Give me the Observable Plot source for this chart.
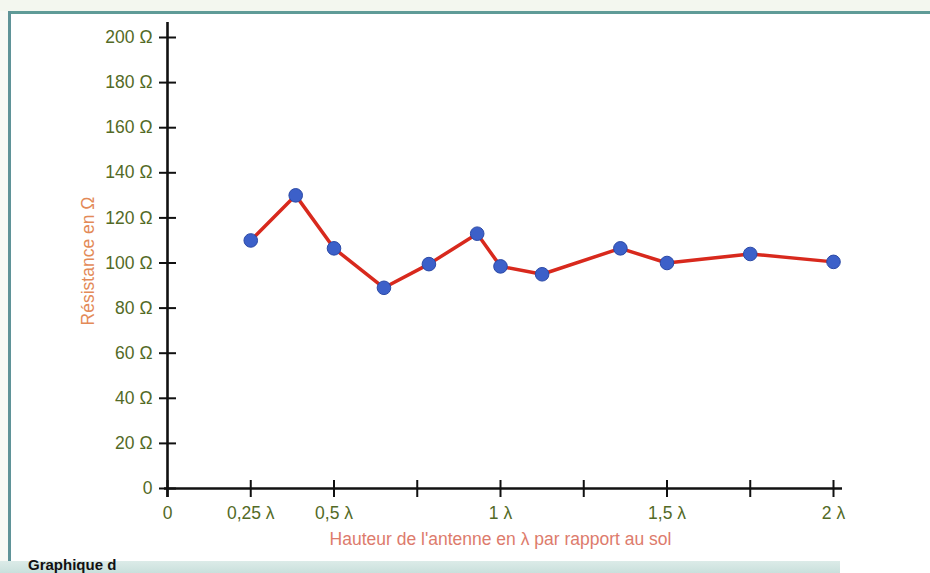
<!DOCTYPE html>
<html>
<head>
<meta charset="utf-8">
<script src="https://cdn.jsdelivr.net/npm/d3@7"></script>
<script src="https://cdn.jsdelivr.net/npm/@observablehq/plot@0.6"></script>
<style>
  html, body { margin: 0; padding: 0; background: #ffffff; }
  #wrap { position: relative; width: 930px; height: 573px; overflow: hidden; background: #ffffff; font-family: "Liberation Sans", Arial, sans-serif; }
  #wrap svg { position: absolute; left: 0; top: 0; overflow: visible; }
  .topband { position: absolute; left: 0; top: 0; width: 930px; height: 11px; background: #f3f7ef; }
  .topline { position: absolute; left: 8px; top: 11px; width: 922px; height: 3px; background: #5f9b97; }
  .leftband { position: absolute; left: 0; top: 11px; width: 8px; height: 552px; background: #f7f9f5; }
  .leftline { position: absolute; left: 8px; top: 11px; width: 3px; height: 552px; background: #5f9398; }
  .bottomband { position: absolute; left: 0; top: 561px; width: 840px; height: 12px; background: linear-gradient(#dcebe8, #c9e0dc); }
  .caption { position: absolute; left: 28px; top: 557px; font: bold 15px/15px "Liberation Sans", Arial, sans-serif; color: #111; white-space: nowrap; }
</style>
</head>
<body>
<div id="wrap">
  <div class="topband"></div>
  <div class="leftband"></div>
  <div id="chart"></div>
  <div class="topline"></div>
  <div class="leftline"></div>
  <div class="bottomband"></div>
  <div class="caption">Graphique d</div>
</div>
<script>
// Heights of the antenna (in wavelengths) and measured resistance (ohms)
const heights = [0.25, 0.385, 0.5, 0.65, 0.785, 0.93, 1.0, 1.125, 1.36, 1.5, 1.75, 2.0];
const resistances = [110, 130, 106.5, 89, 99.5, 113, 98.5, 95, 106.5, 100, 104, 100.5];

const yTicks = [0, 20, 40, 60, 80, 100, 120, 140, 160, 180, 200];
const yTickLabels = ["0", "20 Ω", "40 Ω", "60 Ω", "80 Ω", "100 Ω", "120 Ω", "140 Ω", "160 Ω", "180 Ω", "200 Ω"];
const xTicks = [0, 0.25, 0.5, 0.75, 1, 1.25, 1.5, 1.75, 2];
const xLabelValues = [0, 0.25, 0.5, 1, 1.5, 2];
const xLabelTexts = ["0", "0,25 λ", "0,5 λ", "1 λ", "1,5 λ", "2 λ"];

const xTitle = "Hauteur de l'antenne en λ par rapport au sol";
const yTitle = "Résistance en Ω";

const data = heights.map((h, i) => ({h, r: resistances[i]}));
const yLab = yTicks.map((v, i) => ({v, t: yTickLabels[i]}));
const xLab = xLabelValues.map((v, i) => ({v, t: xLabelTexts[i]}));

const font = "Liberation Sans, Arial, sans-serif";
const tickColor = "#536a26";

const chart = Plot.plot({
  width: 930,
  height: 573,
  marginLeft: 167,
  marginRight: 97,
  marginTop: 37,
  marginBottom: 85,
  style: {background: "transparent", fontFamily: font, overflow: "visible"},
  x: {domain: [0, 2], axis: null},
  y: {domain: [0, 200], axis: null},
  marks: [
    // axis lines
    Plot.ruleX([0], {x: d => d, y1: 200, y2: 0, insetTop: -15, insetBottom: -9, stroke: "#111", strokeWidth: 2.6}),
    Plot.ruleY([0], {y: d => d, x1: 0, x2: 2, insetLeft: -3, insetRight: -9, stroke: "#111", strokeWidth: 2.6}),
    // crossing tick marks
    Plot.ruleY(yTicks, {y: d => d, x1: 0, x2: 0, insetLeft: -8, insetRight: -9, stroke: "#111", strokeWidth: 2}),
    Plot.ruleX(xTicks, {x: d => d, y1: 0, y2: 0, insetTop: -8, insetBottom: -9, stroke: "#111", strokeWidth: 2}),
    // tick labels
    Plot.text(yLab, {x: 0, y: "v", text: "t", textAnchor: "end", dx: -15, fill: tickColor, fontSize: 17.5}),
    Plot.text(xLab, {x: "v", y: 0, text: "t", dy: 25, fill: tickColor, fontSize: 17.5}),
    // titles
    Plot.text([xTitle], {frameAnchor: "bottom", dy: 56, text: d => d, fill: "#dd7b6c", fontSize: 17.5}),
    Plot.text([yTitle], {frameAnchor: "left", textAnchor: "middle", rotate: -90, dx: -79, dy: -2, text: d => d, fill: "#e38a58", fontSize: 17.5}),
    // data
    Plot.line(data, {x: "h", y: "r", stroke: "#d8291d", strokeWidth: 3.5}),
    Plot.dot(data, {x: "h", y: "r", r: 6.8, fill: "#3c60c9", stroke: "#2b49a6", strokeWidth: 1})
  ]
});
document.getElementById("chart").appendChild(chart);
</script>
</body>
</html>
